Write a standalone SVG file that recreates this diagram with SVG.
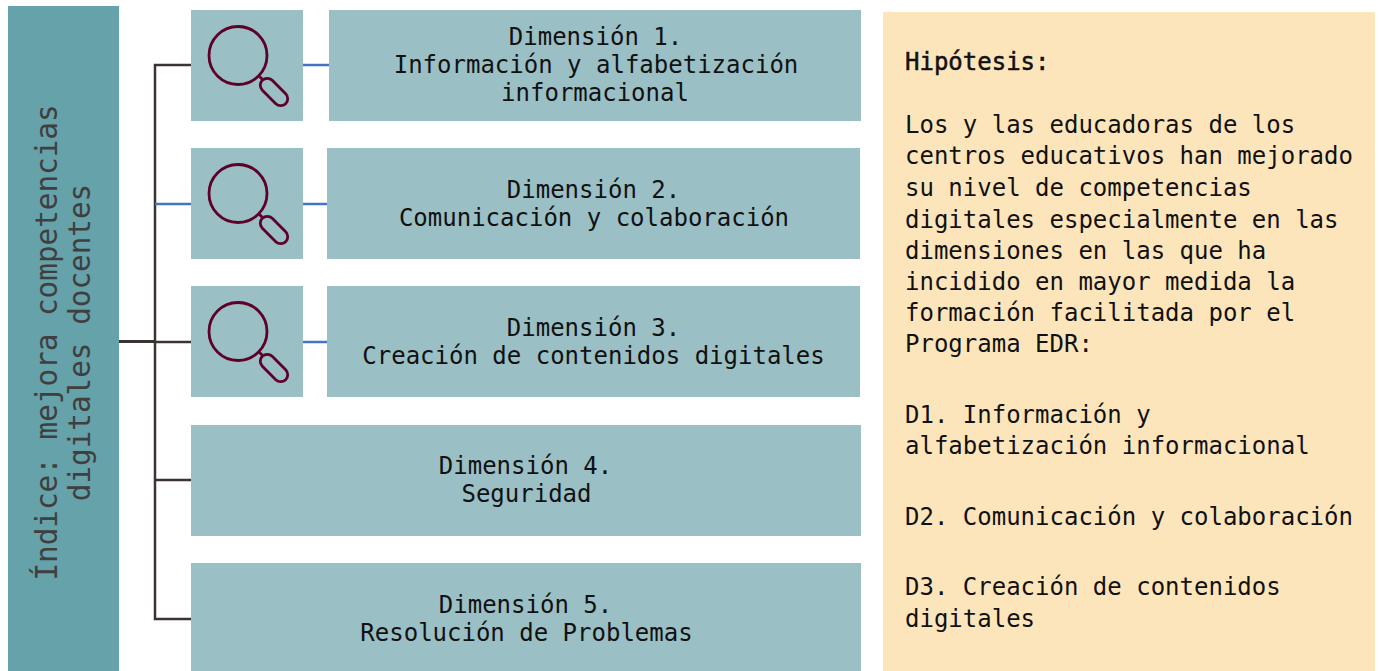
<svg xmlns="http://www.w3.org/2000/svg" width="1379" height="671" viewBox="0 0 1379 671">
<style>
.b{fill:#9abfc4}
.t{font-family:"DejaVu Sans Mono","Liberation Mono",monospace;font-size:24px;fill:#111}
.c{text-anchor:middle}
.l{font-family:"DejaVu Sans Mono","Liberation Mono",monospace;font-size:29.300px;fill:#3f3f3f;text-anchor:middle}
.k{fill:none;stroke:#3b3232;stroke-width:2.500}
.u{fill:none;stroke:#4472c4;stroke-width:2.500}
.g{fill:none;stroke:#5e0029;stroke-width:2.800}
</style>
<defs>
<g id="mag" class="g">
<circle cx="238" cy="55.500" r="29"/>
<path d="M258 75L263 80"/>
<rect x="257.500" y="85" width="33" height="14" rx="7" transform="rotate(45 274 92)"/>
</g>
</defs>
<rect width="1379" height="671" fill="#fff"/>
<g id="connectors">
<path class="k" d="M191 65H155V619H191"/>
<path class="u" d="M155 204H191"/>
<path class="k" style="stroke-width:3" d="M119 341.500H155"/>
<path class="k" d="M155 342H191"/>
<path class="k" d="M155 480H191"/>
<path class="u" d="M303 65H329"/>
<path class="u" d="M303 204H327"/>
<path class="u" d="M303 342H327"/>
</g>
<g id="indice">
<rect x="8" y="6" width="111" height="665" fill="#66a2aa"/>
<text transform="translate(57 342.500) rotate(-90)" class="l">Índice: mejora competencias</text>
<text transform="translate(90 342.500) rotate(-90)" class="l">digitales docentes</text>
</g>
<g id="icon1"><rect class="b" x="191" y="10" width="112" height="111"/><use href="#mag"/></g>
<g id="icon2"><rect class="b" x="191" y="148" width="112" height="111"/><use href="#mag" y="138"/></g>
<g id="icon3"><rect class="b" x="191" y="286" width="112" height="111"/><use href="#mag" y="276"/></g>
<g id="dim1"><rect class="b" x="329" y="10" width="532" height="111"/>
<text class="t c" x="595.500" y="45">Dimensión 1.</text><text class="t c" x="596" y="73">Información y alfabetización</text><text class="t c" x="595" y="101">informacional</text></g>
<g id="dim2"><rect class="b" x="327" y="148" width="533" height="111"/>
<text class="t c" x="593.500" y="198">Dimensión 2.</text><text class="t c" x="594" y="226">Comunicación y colaboración</text></g>
<g id="dim3"><rect class="b" x="327" y="286" width="533" height="111"/>
<text class="t c" x="593.500" y="336">Dimensión 3.</text><text class="t c" x="593.500" y="364">Creación de contenidos digitales</text></g>
<g id="dim4"><rect class="b" x="191" y="425" width="670" height="111"/>
<text class="t c" x="525.500" y="474">Dimensión 4.</text><text class="t c" x="526.500" y="502">Seguridad</text></g>
<g id="dim5"><rect class="b" x="191" y="563" width="670" height="108"/>
<text class="t c" x="525.500" y="612.500">Dimensión 5.</text><text class="t c" x="526.500" y="640.500">Resolución de Problemas</text></g>
<g id="hipotesis"><rect x="883" y="12" width="492" height="659" fill="#fde5bb"/>
<text class="t" x="905" y="70" stroke="#111" stroke-width="0.500">Hipótesis:</text>
<text class="t" x="905" y="133">Los y las educadoras de los</text>
<text class="t" x="905" y="164">centros educativos han mejorado</text>
<text class="t" x="905" y="196">su nivel de competencias</text>
<text class="t" x="905" y="227.500">digitales especialmente en las</text>
<text class="t" x="905" y="258.500">dimensiones en las que ha</text>
<text class="t" x="905" y="289.500">incidido en mayor medida la</text>
<text class="t" x="905" y="321">formación facilitada por el</text>
<text class="t" x="905" y="352">Programa EDR:</text>
<text class="t" x="905" y="423">D1. Información y</text>
<text class="t" x="905" y="454">alfabetización informacional</text>
<text class="t" x="905" y="525">D2. Comunicación y colaboración</text>
<text class="t" x="905" y="595">D3. Creación de contenidos</text>
<text class="t" x="905" y="627">digitales</text>
</g>
</svg>
